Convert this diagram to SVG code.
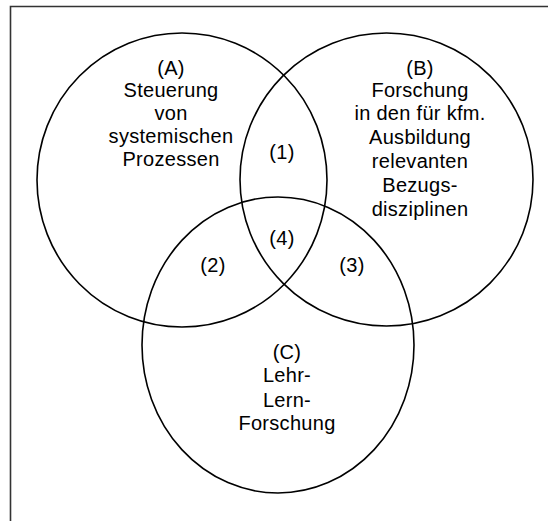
<svg xmlns="http://www.w3.org/2000/svg" width="548" height="521" viewBox="0 0 548 521">
<style>
.c{fill:none;stroke:#000;stroke-width:1.6}
.frame{fill:none;stroke:#333;stroke-width:1.6}
text{font-family:"Liberation Sans",Arial,sans-serif;font-size:20px;fill:#000;text-anchor:middle;letter-spacing:0.3px}
</style>
<rect width="548" height="521" fill="#fff"/>
<path class="frame" d="M10.5,521 V6.5 H548"/>
<g id="A">
<ellipse class="c" cx="182" cy="180" rx="145" ry="147"/>
<text x="171" y="75">(A)</text>
<text x="171" y="97">Steuerung</text>
<text x="171" y="120">von</text>
<text x="171" y="143">systemischen</text>
<text x="171" y="166">Prozessen</text>
</g>
<g id="B">
<ellipse class="c" cx="386.5" cy="179.5" rx="146.5" ry="146.5"/>
<text x="420" y="75">(B)</text>
<text x="420" y="97">Forschung</text>
<text x="420" y="120">in den für kfm.</text>
<text x="420" y="144">Ausbildung</text>
<text x="420" y="168">relevanten</text>
<text x="420" y="192">Bezugs-</text>
<text x="420" y="216">disziplinen</text>
</g>
<g id="C">
<ellipse class="c" cx="278" cy="345" rx="136" ry="148"/>
<text x="287" y="359">(C)</text>
<text x="287" y="382">Lehr-</text>
<text x="287" y="407">Lern-</text>
<text x="287" y="430">Forschung</text>
</g>
<g id="overlaps">
<text x="282" y="159">(1)</text>
<text x="213" y="272">(2)</text>
<text x="352" y="272">(3)</text>
<text x="282" y="245">(4)</text>
</g>
</svg>
